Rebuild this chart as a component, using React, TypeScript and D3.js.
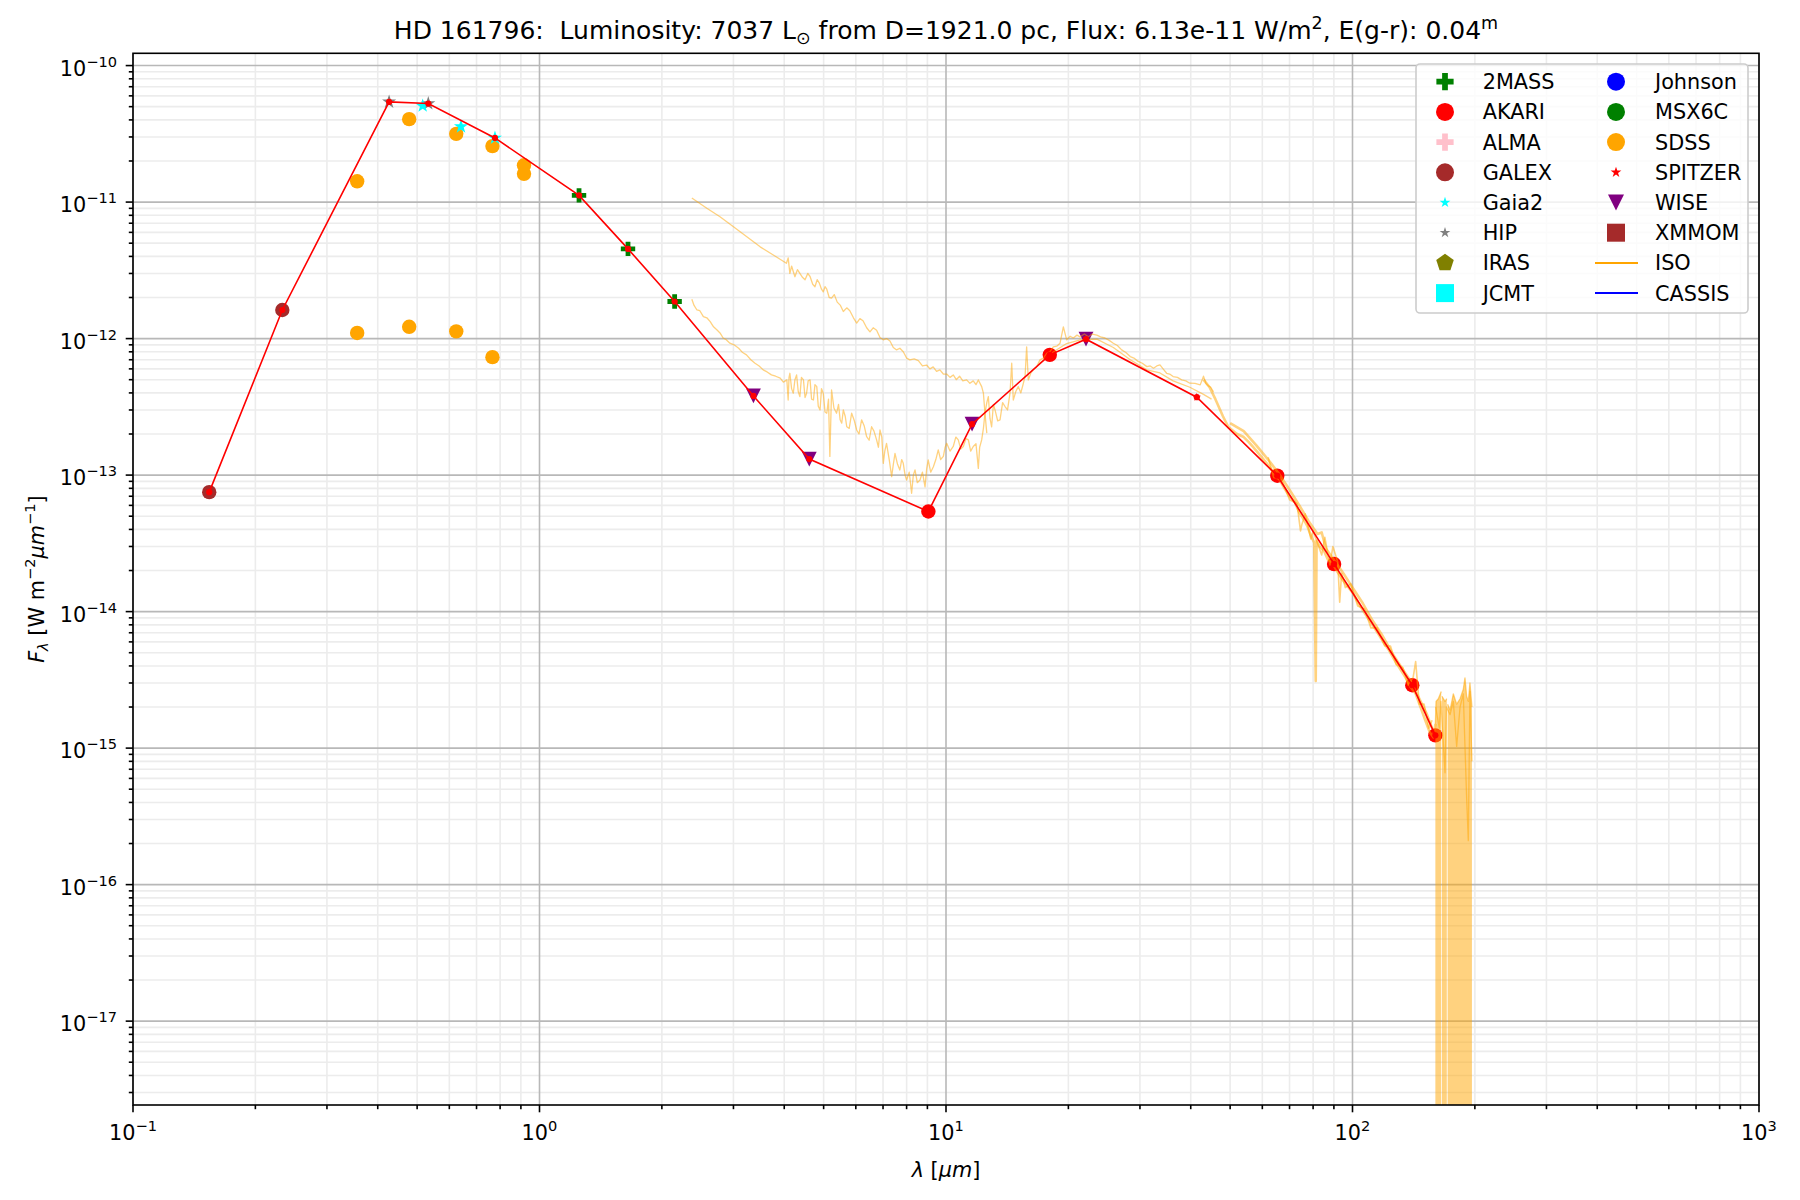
import React from "react";
import * as d3 from "d3";

// photometry, wavelength in micron and flux in W m^-2 um^-1
const galexLam = [0.154, 0.233];
const galexFlux = [7.5e-14, 1.62e-12];
const hipLam = [0.4266, 0.5326];
const hipFlux = [5.42e-11, 5.27e-11];
const gaiaLam = [0.516, 0.641, 0.777];
const gaiaFlux = [5.07e-11, 3.57e-11, 2.95e-11];
const sdssLam = [0.356, 0.478, 0.624, 0.766, 0.916, 0.916, 0.356, 0.478, 0.624, 0.766];
const sdssFlux = [1.42e-11, 4.05e-11, 3.16e-11, 2.57e-11, 1.86e-11, 1.61e-11, 1.1e-12, 1.22e-12, 1.13e-12, 7.31e-13];
const twoMassLam = [1.251, 1.651, 2.15];
const twoMassFlux = [1.12e-11, 4.54e-12, 1.87e-12];
const wiseLam = [3.36, 4.61, 11.59, 22.1];
const wiseFlux = [3.8e-13, 1.31e-13, 2.36e-13, 9.9e-13];
const akariLam = [9.05, 18.0, 65.3, 90.1, 140.3, 159.9];
const akariFlux = [5.41e-14, 7.6e-13, 9.9e-14, 2.23e-14, 2.89e-15, 1.24e-15];
const spitzerLam = [41.4];
const spitzerFlux = [3.72e-13];

// the red SED polyline
const sedLam = [0.154, 0.233, 0.4266, 0.5326, 0.777, 1.251, 1.651, 2.15, 3.36, 4.61, 9.05, 11.59, 18.0, 22.1, 41.4, 65.3, 90.1, 140.3, 159.9];
const sedFlux = [7.5e-14, 1.62e-12, 5.42e-11, 5.27e-11, 2.95e-11, 1.12e-11, 4.54e-12, 1.87e-12, 3.8e-13, 1.31e-13, 5.41e-14, 2.36e-13, 7.6e-13, 9.9e-13, 3.72e-13, 9.9e-14, 2.23e-14, 2.89e-15, 1.24e-15];

// ISO spectra [lambda, flux]
const isoSwsHigh = [
  [2.37, 1.07e-11], [2.58, 9.0e-12], [2.78, 7.8e-12], [3.0, 6.6e-12], [3.23, 5.6e-12], [3.49, 4.7e-12],
  [3.76, 4.1e-12], [4.05, 3.56e-12], [4.09, 3.9e-12], [4.13, 3.0e-12], [4.17, 3.4e-12], [4.21, 3.1e-12],
  [4.25, 2.84e-12], [4.31, 3.2e-12], [4.37, 3.0e-12], [4.44, 2.8e-12], [4.5, 2.7e-12], [4.57, 3.0e-12],
  [4.63, 2.85e-12], [4.7, 2.5e-12], [4.76, 2.4e-12], [4.82, 2.7e-12], [4.88, 2.55e-12], [4.94, 2.3e-12],
  [4.99, 2.2e-12], [5.04, 2.4e-12], [5.09, 2.3e-12], [5.16, 2.0e-12], [5.23, 1.98e-12], [5.31, 2.1e-12],
  [5.4, 1.85e-12], [5.5, 1.75e-12], [5.59, 1.58e-12], [5.7, 1.68e-12], [5.8, 1.6e-12], [5.92, 1.42e-12],
  [6.03, 1.3e-12], [6.14, 1.4e-12], [6.25, 1.35e-12], [6.38, 1.2e-12], [6.5, 1.12e-12], [6.62, 1.2e-12],
  [6.75, 1.15e-12], [6.88, 1.02e-12], [7.01, 9.8e-13], [7.14, 1.0e-12], [7.28, 9.6e-13], [7.42, 8.6e-13],
  [7.56, 8.26e-13], [7.7, 8.5e-13], [7.85, 8.0e-13], [8.0, 7.2e-13], [8.15, 6.98e-13], [8.35, 7.1e-13],
  [8.55, 6.9e-13], [8.75, 6.3e-13], [8.96, 6.4e-13], [9.13, 6.0e-13], [9.3, 6.2e-13], [9.48, 5.75e-13],
  [9.66, 5.9e-13], [9.85, 5.5e-13], [10.04, 5.5e-13], [10.23, 5.2e-13], [10.42, 5.42e-13], [10.6, 5.0e-13],
  [10.8, 5.3e-13], [11.0, 4.9e-13], [11.24, 4.98e-13], [11.45, 4.7e-13], [11.67, 4.9e-13], [11.85, 4.6e-13],
  [12.01, 4.98e-13], [12.24, 4.45e-13], [12.36, 3.98e-13], [12.47, 2.84e-13], [12.6, 2.03e-13],
];
const isoSwsLow = [
  [2.37, 1.94e-12], [2.4, 1.75e-12], [2.44, 1.62e-12], [2.48, 1.6e-12], [2.53, 1.45e-12], [2.58, 1.42e-12],
  [2.63, 1.33e-12], [2.68, 1.22e-12], [2.73, 1.16e-12], [2.78, 1.1e-12], [2.83, 1.01e-12], [2.88, 9.8e-13],
  [2.94, 9.25e-13], [3.01, 9.0e-13], [3.09, 8.5e-13], [3.16, 7.9e-13], [3.23, 7.6e-13], [3.31, 7.0e-13],
  [3.39, 6.6e-13], [3.47, 6.3e-13], [3.55, 5.9e-13], [3.63, 5.7e-13], [3.72, 5.42e-13], [3.81, 5.3e-13],
  [3.91, 5.13e-13], [3.98, 4.8e-13], [4.06, 4.98e-13], [4.09, 3.55e-13], [4.11, 5.2e-13], [4.13, 5.57e-13],
  [4.17, 4.3e-13], [4.21, 3.98e-13], [4.25, 5.0e-13], [4.29, 5.42e-13], [4.33, 4.1e-13], [4.37, 3.76e-13],
  [4.41, 5.2e-13], [4.46, 4.98e-13], [4.5, 3.7e-13], [4.54, 3.98e-13], [4.58, 4.9e-13], [4.63, 4.98e-13],
  [4.67, 3.6e-13], [4.72, 3.55e-13], [4.76, 4.6e-13], [4.81, 4.45e-13], [4.85, 3.2e-13], [4.9, 3.0e-13],
  [4.94, 4.3e-13], [4.99, 3.98e-13], [5.04, 2.9e-13], [5.09, 2.84e-13], [5.14, 3.6e-13], [5.18, 1.37e-13],
  [5.23, 4.2e-13], [5.3, 3.1e-13], [5.38, 2.84e-13], [5.44, 3.3e-13], [5.49, 2.54e-13], [5.54, 2.4e-13],
  [5.59, 3.0e-13], [5.65, 2.7e-13], [5.7, 2.26e-13], [5.78, 2.2e-13], [5.86, 2.84e-13], [5.95, 2.5e-13],
  [6.03, 2.14e-13], [6.11, 2.0e-13], [6.2, 2.54e-13], [6.29, 2.3e-13], [6.38, 1.91e-13], [6.47, 1.8e-13],
  [6.56, 2.26e-13], [6.65, 2.1e-13], [6.75, 1.81e-13], [6.82, 1.6e-13], [6.88, 2.14e-13], [6.95, 1.9e-13],
  [7.01, 1.22e-13], [7.07, 1.5e-13], [7.14, 1.71e-13], [7.25, 1.3e-13], [7.35, 9.75e-14], [7.42, 1.2e-13],
  [7.49, 1.44e-13], [7.6, 1.2e-13], [7.7, 1.09e-13], [7.78, 1.3e-13], [7.85, 1.22e-13], [7.93, 1.0e-13],
  [8.0, 9.2e-14], [8.12, 1.05e-13], [8.23, 7.36e-14], [8.31, 1.0e-13], [8.39, 1.09e-13], [8.5, 8.8e-14],
  [8.63, 9.2e-14], [8.75, 1.05e-13], [8.88, 8.2e-14], [8.96, 1.1e-13], [9.04, 1.29e-13], [9.17, 1.05e-13],
  [9.31, 1.15e-13], [9.44, 1.3e-13], [9.57, 1.53e-13], [9.7, 1.3e-13], [9.85, 1.37e-13], [9.95, 1.6e-13],
  [10.04, 1.71e-13], [10.23, 1.5e-13], [10.42, 1.62e-13], [10.57, 1.9e-13], [10.72, 1.81e-13],
  [10.87, 1.55e-13], [11.03, 1.62e-13], [11.2, 1.85e-13], [11.35, 1.81e-13], [11.5, 1.5e-13],
  [11.67, 1.62e-13], [11.85, 1.7e-13], [12.01, 1.12e-13], [12.1, 1.6e-13], [12.24, 1.81e-13],
  [12.36, 2.2e-13], [12.47, 2.84e-13], [12.6, 3.4e-13], [12.71, 3.76e-13], [12.83, 2.6e-13],
  [12.95, 2.26e-13], [13.08, 3.3e-13], [13.2, 3.0e-13], [13.4, 2.5e-13], [13.58, 2.54e-13], [13.78, 3.4e-13],
  [13.97, 3.18e-13], [14.17, 3.0e-13], [14.37, 3.98e-13], [14.51, 6.6e-13], [14.64, 3.55e-13],
  [14.85, 4.1e-13], [15.06, 4.45e-13], [15.28, 4.0e-13], [15.5, 4.71e-13], [15.65, 5.3e-13],
  [15.79, 8.7e-13], [15.94, 4.98e-13], [16.17, 5.6e-13], [16.4, 5.9e-13], [16.7, 6.2e-13],
  [17.03, 6.98e-13], [17.35, 7.2e-13], [17.69, 7.8e-13], [18.0, 8.0e-13], [18.37, 8.7e-13],
  [18.72, 8.8e-13], [19.08, 9.25e-13], [19.44, 1.22e-12], [19.81, 9.8e-13], [20.2, 1.04e-12],
  [20.57, 1.01e-12], [21.0, 1.06e-12], [21.36, 1.03e-12], [21.9, 1.08e-12], [22.4, 1.03e-12],
  [22.9, 1.08e-12], [23.5, 1.06e-12], [24.0, 1.03e-12], [24.6, 1.01e-12], [25.2, 9.7e-13], [25.8, 9.25e-13],
  [26.4, 8.9e-13], [27.05, 8.26e-13], [27.7, 7.9e-13], [28.4, 7.38e-13], [29.0, 7.2e-13], [29.7, 6.8e-13],
  [30.4, 6.6e-13], [31.2, 6.23e-13], [31.8, 6.3e-13], [32.4, 6.07e-13], [33.0, 6.3e-13], [33.6, 6.41e-13],
  [34.2, 6.0e-13], [34.9, 5.57e-13], [35.5, 5.5e-13], [36.2, 5.27e-13], [37.1, 5.2e-13], [38.0, 4.98e-13],
  [38.9, 4.9e-13], [39.8, 4.71e-13], [41.0, 4.7e-13], [42.2, 4.58e-13], [43.0, 5.3e-13], [43.6, 4.7e-13],
  [44.2, 4.5e-13], [44.8, 4.4e-13], [45.5, 4.07e-13],
];
const isoSwsOverlap = [
  [17.0, 6.6e-13], [18.4, 8.0e-13], [19.8, 9.2e-13], [21.4, 9.8e-13], [23.5, 9.9e-13], [25.8, 8.6e-13],
  [28.4, 7.0e-13], [31.2, 5.9e-13], [33.6, 5.6e-13], [36.2, 4.9e-13], [39.8, 4.4e-13], [43.0, 3.9e-13],
  [45.0, 3.6e-13],
];
const isoLwsA = [
  [43.0, 5.0e-13], [44.5, 4.4e-13], [46, 3.6e-13], [48, 2.7e-13], [49.5, 2.25e-13], [52, 2.0e-13],
  [54, 1.9e-13], [55.5, 1.75e-13], [57, 1.6e-13], [59, 1.42e-13], [61.5, 1.22e-13], [64, 1.04e-13],
  [66, 9.4e-14], [68, 8.0e-14], [70, 7.0e-14], [72, 6.4e-14], [74, 5.3e-14], [76, 4.7e-14],
  [77.5, 4.2e-14], [79, 3.6e-14], [80.5, 3.2e-14], [81.2, 3.1e-15], [81.6, 3.3e-14], [83, 3.0e-14],
  [85, 2.8e-14], [87, 2.4e-14], [89, 2.3e-14], [91.4, 2.0e-14], [94, 1.75e-14], [97, 1.55e-14],
  [100.5, 1.35e-14], [104, 1.12e-14], [108, 9.4e-15], [112, 8.0e-15], [116, 6.8e-15], [119, 6.0e-15],
  [123, 5.2e-15], [127, 4.4e-15], [131, 3.8e-15], [135, 3.3e-15], [139, 2.8e-15], [143, 2.5e-15],
  [147, 2.0e-15], [151, 1.6e-15], [155, 1.3e-15], [158, 1.2e-15], [160, 1.5e-15],
];
const isoLwsB = [
  [50, 2.4e-13], [54, 2.1e-13], [58, 1.65e-13], [62, 1.3e-13], [66, 1.02e-13], [70, 7.8e-14],
  [74, 6.0e-14], [78, 4.6e-14], [82, 3.7e-14], [84, 3.8e-14], [86, 2.9e-14], [90, 2.4e-14],
  [95, 1.9e-14], [100, 1.5e-14], [106, 1.15e-14], [112, 8.6e-15], [118, 6.8e-15], [125, 5.0e-15],
  [132, 3.9e-15], [138, 3.2e-15], [145, 2.4e-15], [152, 1.8e-15], [157, 1.4e-15],
];
const isoLwsNoise = [
  [62, 1.35e-13], [64, 9.6e-14], [67, 9.2e-14], [70, 6.6e-14], [73, 6.2e-14], [74.5, 3.9e-14],
  [75, 4.3e-14], [76.5, 5.2e-14], [79, 3.4e-14], [80, 3.9e-14], [84, 2.6e-14], [85.5, 3.5e-14],
  [88, 2.2e-14], [89.5, 3.0e-14], [92, 2.3e-14], [93, 1.17e-14], [94, 1.9e-14], [96, 1.5e-14],
  [99, 1.6e-14], [103, 1.1e-14], [107, 1.05e-14], [111, 7.6e-15], [115, 7.6e-15], [120, 5.6e-15],
  [124, 5.6e-15], [128, 4.1e-15], [133, 3.9e-15], [137, 2.9e-15], [141, 3.3e-15], [143, 4.3e-15],
  [146, 2.1e-15], [150, 2.1e-15], [154, 1.4e-15], [157, 1.6e-15],
];
// noisy tail: top of the band, the spectrum drops below the axis underneath (0 = gap)
const isoLwsTail = [
  [159.9, 1.5e-15], [160.5, 2.2e-15], [162.6, 2.3e-15], [165.3, 2.6e-15], [165.6, 0], [166.0, 2.4e-15],
  [168.9, 2.2e-15], [170.6, 2.3e-15], [171.0, 0], [171.4, 2.1e-15], [173.8, 1.9e-15], [177, 2.5e-15],
  [180.4, 2.1e-15], [183.9, 2.3e-15], [187.3, 2.7e-15], [189.1, 3.27e-15], [190.9, 2.4e-15],
  [192.7, 2.2e-15], [194.5, 3.0e-15], [196.7, 2.0e-15],
];
const isoTailDips = [
  [160.2, 2.0e-15], [163.5, 1.4e-15], [165.0, 2.2e-15], [168.9, 6.6e-16], [170.2, 2.0e-15],
  [173.8, 1.76e-15], [177, 2.2e-15], [180.4, 1.03e-15], [183.9, 2.0e-15], [187.3, 2.5e-15],
  [190.9, 4.3e-16], [192.7, 2.1e-16], [194.5, 2.6e-15], [196.7, 8.0e-16],
];

const legendLeft = ["2MASS", "AKARI", "ALMA", "GALEX", "Gaia2", "HIP", "IRAS", "JCMT"];
const legendRight = ["Johnson", "MSX6C", "SDSS", "SPITZER", "WISE", "XMMOM", "ISO", "CASSIS"];

const FONT = "DejaVu Sans";
const xDomain = [0.1, 1000];
const yDomain = [2.43e-18, 1.23e-10];

const symbolPentagon = {
  draw(ctx: any, size: number) {
    const r = Math.sqrt(size / 2.378);
    for (let i = 0; i < 5; i++) {
      const a = -Math.PI / 2 + (i * 2 * Math.PI) / 5;
      if (i === 0) ctx.moveTo(r * Math.cos(a), r * Math.sin(a));
      else ctx.lineTo(r * Math.cos(a), r * Math.sin(a));
    }
    ctx.closePath();
  },
};
const symbolTriDown = {
  draw(ctx: any, size: number) {
    const s = Math.sqrt(2 * size) / 2;
    ctx.moveTo(-s, -s);
    ctx.lineTo(s, -s);
    ctx.lineTo(0, s);
    ctx.closePath();
  },
};
const sym = (type: any, size: number) => d3.symbol().type(type).size(size)() as string;

const supLabel = (e: number) => (e < 0 ? "\u2212" + -e : String(e));

const Markers = ({ lam, flux, path, fill, x, y, opacity = 1 }: any) => (
  <g fill={fill} opacity={opacity}>
    {lam.map((l: number, i: number) => (
      <path key={i} d={path} transform={`translate(${x(l)},${y(flux[i])})`} />
    ))}
  </g>
);

export default function App() {
  const x = d3.scaleLog().domain(xDomain).range([133, 1759]);
  const y = d3.scaleLog().domain(yDomain).range([1105, 53.3]);
  const [px0, px1] = x.range();
  const [py0, py1] = y.range();

  const isMajor = (t: number) => Math.abs(Math.log10(t) - Math.round(Math.log10(t))) < 1e-6;
  const xTicks = x.ticks().filter((t) => t >= xDomain[0] && t <= xDomain[1]);
  const yTicks = y.ticks().filter((t) => t >= yDomain[0] && t <= yDomain[1]);

  const line = d3
    .line<number[]>()
    .x((d) => x(d[0]))
    .y((d) => y(d[1]));
  const tailLine = d3
    .line<number[]>()
    .defined((d) => d[1] > 0)
    .x((d) => x(d[0]))
    .y((d) => y(d[1]));
  const tailArea = d3
    .area<number[]>()
    .defined((d) => d[1] > 0)
    .x((d) => x(d[0]))
    .y0(py0 + 5)
    .y1((d) => y(d[1]));

  const circle = sym(d3.symbolCircle, Math.PI * 7.2 * 7.2);
  const plus = sym(d3.symbolCross, 115);
  const star = sym(d3.symbolStar, 62);
  const smallStar = sym(d3.symbolStar, 22);
  const tri = sym(symbolTriDown, 110);
  const dot = sym(d3.symbolCircle, Math.PI * 3.1 * 3.1);

  const sed = sedLam.map((l, i) => [l, sedFlux[i]]);
  const isoColor = "#ffa500";

  // legend
  const lgX = 1416, lgY = 64, lgW = 332, lgH = 249;
  const rowY = (i: number) => 81.7 + i * 30.2;
  const lgCircle = sym(d3.symbolCircle, Math.PI * 9 * 9);
  const lgPlus = sym(d3.symbolCross, 165);
  const lgStar = sym(d3.symbolStar, 36);
  const lgSquare = sym(d3.symbolSquare, 324);
  const lgTri = sym(symbolTriDown, 128);
  const lgPent = sym(symbolPentagon, 2.378 * 9.2 * 9.2);
  const leftMarks = [
    { d: lgPlus, fill: "#008000" },
    { d: lgCircle, fill: "#ff0000" },
    { d: lgPlus, fill: "#ffc0cb" },
    { d: lgCircle, fill: "#a52a2a" },
    { d: lgStar, fill: "#00ffff" },
    { d: lgStar, fill: "#808080" },
    { d: lgPent, fill: "#808000" },
    { d: lgSquare, fill: "#00ffff" },
  ];
  const rightMarks = [
    { d: lgCircle, fill: "#0000ff" },
    { d: lgCircle, fill: "#008000" },
    { d: lgCircle, fill: "#ffa500" },
    { d: lgStar, fill: "#ff0000" },
    { d: lgTri, fill: "#800080" },
    { d: lgSquare, fill: "#a52a2a" },
    { line: "#ffa500" },
    { line: "#0000ff" },
  ];

  return (
    <div style={{ position: "absolute", left: 0, top: 0 }}>
      <svg width={1800} height={1200} fontFamily={FONT} style={{ display: "block", background: "#fff" }}>
        <defs>
          <clipPath id="plotClip">
            <rect x={px0} y={py1} width={px1 - px0} height={py0 - py1} />
          </clipPath>
        </defs>
        <rect x={0} y={0} width={1800} height={1200} fill="#fff" />

        {/* grid */}
        <g strokeWidth={1.6}>
          {xTicks.filter((t) => !isMajor(t)).map((t, i) => (
            <line key={"xm" + i} x1={x(t)} x2={x(t)} y1={py1} y2={py0} stroke="#ececec" />
          ))}
          {yTicks.filter((t) => !isMajor(t)).map((t, i) => (
            <line key={"ym" + i} x1={px0} x2={px1} y1={y(t)} y2={y(t)} stroke="#ececec" />
          ))}
          {xTicks.filter(isMajor).map((t, i) => (
            <line key={"xM" + i} x1={x(t)} x2={x(t)} y1={py1} y2={py0} stroke="#b8b8b8" />
          ))}
          {yTicks.filter(isMajor).map((t, i) => (
            <line key={"yM" + i} x1={px0} x2={px1} y1={y(t)} y2={y(t)} stroke="#b8b8b8" />
          ))}
        </g>

        <g clipPath="url(#plotClip)">
          {/* photometry */}
          <Markers lam={sdssLam} flux={sdssFlux} path={circle} fill="#ffa500" x={x} y={y} />
          <Markers lam={galexLam} flux={galexFlux} path={circle} fill="#a52a2a" x={x} y={y} />
          <Markers lam={hipLam} flux={hipFlux} path={star} fill="#808080" x={x} y={y} />
          <Markers lam={gaiaLam} flux={gaiaFlux} path={star} fill="#00ffff" x={x} y={y} />
          <Markers lam={twoMassLam} flux={twoMassFlux} path={plus} fill="#008000" x={x} y={y} />
          <Markers lam={wiseLam} flux={wiseFlux} path={tri} fill="#800080" x={x} y={y} />
          <Markers lam={akariLam} flux={akariFlux} path={circle} fill="#ff0000" x={x} y={y} />
          <Markers lam={spitzerLam} flux={spitzerFlux} path={smallStar} fill="#ff0000" x={x} y={y} />

          {/* ISO spectra */}
          <path d={tailArea(isoLwsTail) || ""} fill={isoColor} opacity={0.5} />
          <g fill="none" stroke={isoColor} strokeWidth={1.3} strokeOpacity={0.5} strokeLinejoin="round">
            <path d={line(isoSwsHigh) || ""} />
            <path d={line(isoSwsLow) || ""} />
            <path d={line(isoSwsOverlap) || ""} />
            <path d={line(isoLwsA) || ""} strokeWidth={2.6} />
            <path d={line(isoLwsB) || ""} strokeWidth={2.6} />
            <path d={line(isoLwsNoise) || ""} strokeWidth={1.6} />
            <path d={tailLine(isoLwsTail) || ""} />
            <path d={line(isoTailDips) || ""} />
          </g>

          {/* SED polyline */}
          <path d={line(sed) || ""} fill="none" stroke="#ff0000" strokeWidth={1.6} />
          <g fill="#ff0000">
            {sed.map((d, i) => (
              <path key={i} d={dot} transform={`translate(${x(d[0])},${y(d[1])})`} />
            ))}
          </g>
        </g>

        {/* frame */}
        <rect x={px0} y={py1} width={px1 - px0} height={py0 - py1} fill="none" stroke="#000" strokeWidth={1.6} />

        {/* ticks */}
        <g stroke="#000" strokeWidth={1.6}>
          {xTicks.map((t, i) => (
            <line key={"xt" + i} x1={x(t)} x2={x(t)} y1={py0} y2={py0 + (isMajor(t) ? 7.3 : 4.2)} />
          ))}
          {yTicks.map((t, i) => (
            <line key={"yt" + i} x1={px0} x2={px0 - (isMajor(t) ? 7.3 : 4.2)} y1={y(t)} y2={y(t)} />
          ))}
        </g>
        <g fontSize={20.8} fill="#000">
          {xTicks.filter(isMajor).map((t, i) => (
            <text key={i} x={x(t)} y={1140} textAnchor="middle">
              10
              <tspan fontSize={14.6} dy={-9}>
                {supLabel(Math.round(Math.log10(t)))}
              </tspan>
            </text>
          ))}
          {yTicks.filter(isMajor).map((t, i) => (
            <text key={i} x={117} y={y(t) + 10} textAnchor="end">
              10
              <tspan fontSize={14.6} dy={-9}>
                {supLabel(Math.round(Math.log10(t)))}
              </tspan>
            </text>
          ))}
        </g>

        {/* axis labels */}
        <text x={(px0 + px1) / 2} y={1177} textAnchor="middle" fontSize={20.8}>
          <tspan fontStyle="italic">{"\u03bb"}</tspan>
          <tspan>{" ["}</tspan>
          <tspan fontStyle="italic">{"\u03bcm"}</tspan>
          <tspan>{"]"}</tspan>
        </text>
        <text
          transform={`translate(44,${(py0 + py1) / 2}) rotate(-90)`}
          textAnchor="middle"
          fontSize={20.8}
          style={{ whiteSpace: "pre" }}
        >
          <tspan fontStyle="italic">F</tspan>
          <tspan fontStyle="italic" fontSize={14.6} dy={4}>{"\u03bb"}</tspan>
          <tspan dy={-4}>{" [W m"}</tspan>
          <tspan fontSize={14.6} dy={-9}>{"\u22122"}</tspan>
          <tspan fontStyle="italic" dy={9}>{"\u03bcm"}</tspan>
          <tspan fontSize={14.6} dy={-9}>{"\u22121"}</tspan>
          <tspan dy={9}>{"]"}</tspan>
        </text>

        {/* title */}
        <text x={(px0 + px1) / 2} y={39} textAnchor="middle" fontSize={25} style={{ whiteSpace: "pre" }}>
          <tspan>{"HD 161796:  Luminosity: 7037 L"}</tspan>
          <tspan fontSize={17.5} dy={5}>{"\u2299"}</tspan>
          <tspan dy={-5}>{" from D=1921.0 pc, Flux: 6.13e-11 W/m"}</tspan>
          <tspan fontSize={17.5} dy={-10}>{"2"}</tspan>
          <tspan dy={10}>{", E(g-r): 0.04"}</tspan>
          <tspan fontSize={17.5} dy={-10}>{"m"}</tspan>
        </text>

        {/* legend */}
        <rect x={lgX} y={lgY} width={lgW} height={lgH} rx={4} fill="#fff" fillOpacity={0.8} stroke="#cccccc" strokeWidth={1.6} />
        <g fontSize={20.8}>
          {legendLeft.map((name, i) => (
            <g key={"l" + i}>
              <path d={leftMarks[i].d} fill={leftMarks[i].fill} transform={`translate(1445,${rowY(i)})`} />
              <text x={1482.7} y={rowY(i) + 7.5}>{name}</text>
            </g>
          ))}
          {legendRight.map((name, i) => {
            const m: any = rightMarks[i];
            return (
              <g key={"r" + i}>
                {m.line ? (
                  <line x1={1595} x2={1638} y1={rowY(i)} y2={rowY(i)} stroke={m.line} strokeWidth={2} />
                ) : (
                  <path d={m.d} fill={m.fill} transform={`translate(1616,${rowY(i)})`} />
                )}
                <text x={1655} y={rowY(i) + 7.5}>{name}</text>
              </g>
            );
          })}
        </g>
      </svg>
    </div>
  );
}
